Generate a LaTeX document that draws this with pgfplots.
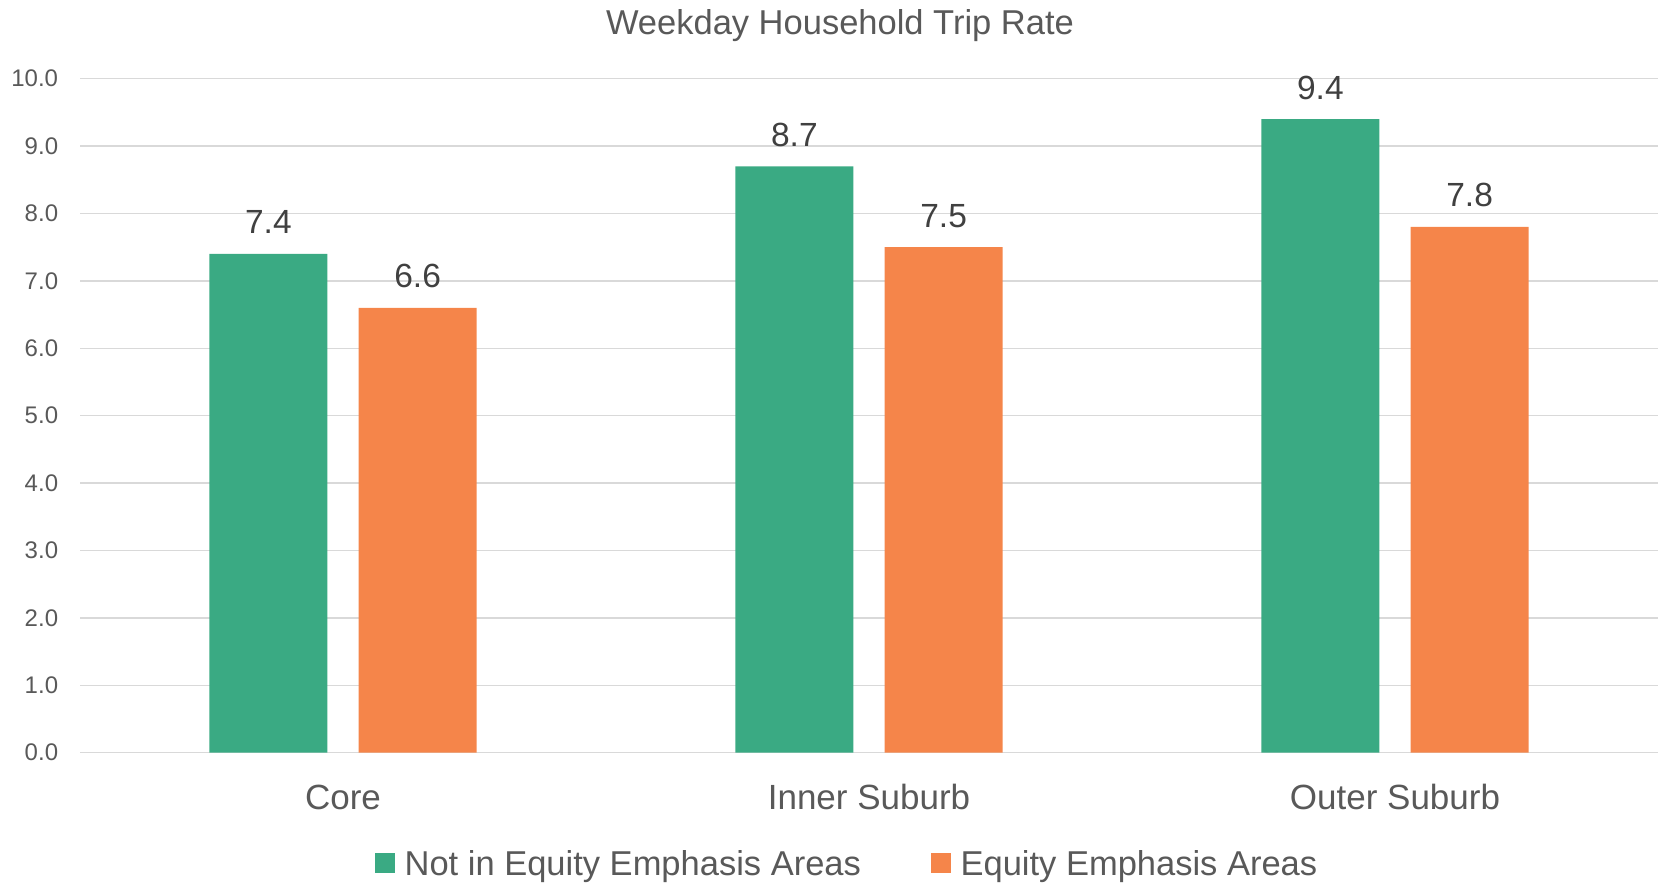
\documentclass[border=0pt]{standalone}
\usepackage{fontspec}
\setmainfont{Liberation Sans}
\usepackage{pgfplots}
\pgfplotsset{compat=1.18}
\definecolor{cgreen}{HTML}{3AAA83}
\definecolor{corange}{HTML}{F5854A}
\definecolor{cgrid}{HTML}{D9D9D9}
\definecolor{ctext}{HTML}{595959}
\definecolor{clabel}{HTML}{404040}
\pgfplotsset{
  sqlegend/.style={legend image code/.code={\fill[##1] (0bp,-8.7bp) rectangle (19.6bp,10.9bp);}},
  barlabel/.style={every node near coord/.append style={anchor=base, yshift=20bp, inner sep=0pt, font=\fontsize{33.5bp}{40bp}\selectfont, text=clabel}},
}
\begin{document}
\begin{tikzpicture}
\begin{axis}[
  at={(80bp,130.3bp)}, anchor=south west,
  scale only axis, width=1578bp, height=674bp,
  xmin=-0.5, xmax=2.5, ymin=0, ymax=10,
  enlargelimits=false,
  ybar,
  /pgf/number format/assume math mode=true,
  axis line style={draw=none},
  tick style={draw=none},
  major tick length=0pt,
  ymajorgrids, grid style={draw=cgrid, line width=1.5bp},
  ytick={0,1,...,10},
  yticklabel={\pgfmathprintnumber[fixed,fixed zerofill,precision=1]{\tick}},
  yticklabel style={anchor=east, inner sep=0pt, xshift=-21.7bp, font=\fontsize{24bp}{28bp}\selectfont, text=ctext},
  xtick={0,1,2},
  xticklabels={Core, Inner Suburb, Outer Suburb},
  xticklabel style={anchor=base, inner sep=0pt, yshift=-56.3bp, font=\fontsize{35bp}{40bp}\selectfont, text=ctext},
  title={Weekday Household Trip Rate},
  title style={at={(0.4816,1.0574)}, anchor=base, inner sep=0pt, font=\fontsize{34.5bp}{40bp}\selectfont, text=ctext},
  bar width=118bp,
  nodes near coords={\pgfmathprintnumber[fixed,fixed zerofill,precision=1]{\pgfplotspointmeta}},
  legend columns=2,
  legend cell align=left,
  legend style={
    at={(0.18695,-0.1849)}, anchor=south west,
    draw=none, fill=none, inner sep=0pt, outer sep=0pt,
    font=\fontsize{34.5bp}{40bp}\selectfont, text=ctext,
    nodes={inner sep=0pt},
    /tikz/every odd column/.append style={column sep=10bp},
    /tikz/every even column/.append style={column sep=70bp},
  },
]
\addplot[fill=cgreen, draw=none, bar shift=-74.6bp, barlabel, sqlegend]
  coordinates {(0,7.4) (1,8.7) (2,9.4)};
\addlegendentry{Not in Equity Emphasis Areas}
\addplot[fill=corange, draw=none, bar shift=74.6bp, barlabel, sqlegend]
  coordinates {(0,6.6) (1,7.5) (2,7.8)};
\addlegendentry{Equity Emphasis Areas}
\end{axis}
\pgfresetboundingbox
\path[use as bounding box] (0,0) rectangle (1662bp,883bp);
\end{tikzpicture}
\end{document}
